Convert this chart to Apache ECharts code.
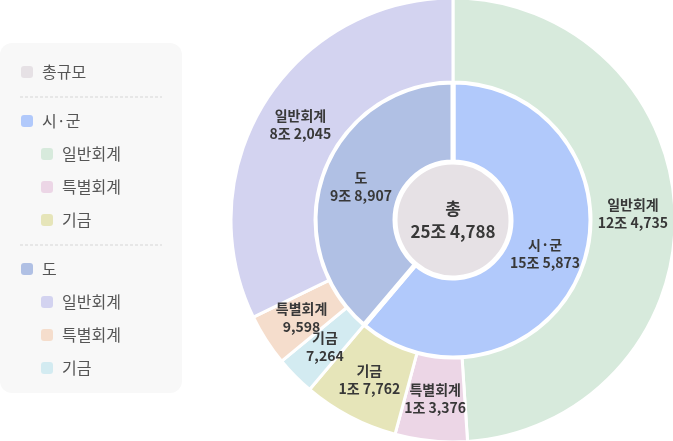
<!DOCTYPE html>
<html>
<head>
<meta charset="utf-8">
<script src="https://cdn.jsdelivr.net/npm/echarts@6/dist/echarts.min.js"></script>
<style>
  html, body { margin: 0; padding: 0; background: #fff; }
  #chart_box { width: 673px; height: 441px; }
</style>
</head>
<body>
<div id="chart_box"></div>
<script>
// 단위: 억원
const totalName = '총';
const totalLegend = '총규모';
const totalValue = 254788;
const groupNames = ['시·군', '도'];
const groupValues = [155873, 98907];
const itemNames = ['일반회계', '특별회계', '기금'];
const siGunValues = [124735, 13376, 17762];
const doValues = [82045, 9598, 7264];

// colours
const totalColor = '#e6e1e5';
const groupColors = ['#b1c9fb', '#b0c0e4'];
const itemColors = [
    ['#d7eadc', '#ecd6e6', '#e6e5b9'],
    ['#d3d3f0', '#f5ddcc', '#d3ebf1']
];
const fontName = '"Noto Sans CJK KR", "Noto Sans", sans-serif';

// 12조 4,735 형식
function fmt(v) {
    const jo = Math.floor(v / 10000);
    const rest = (v % 10000).toLocaleString('en-US');
    return jo > 0 ? jo + '조 ' + rest : rest;
}

window.onload = function () {
    var myChart = echarts.init(document.getElementById('chart_box'));

    const childValues = [siGunValues, doValues];
    const groups = groupNames.map(function (g, i) {
        let kids = itemNames.map(function (n, j) {
            return { name: n, value: childValues[i][j], itemStyle: { color: itemColors[i][j] } };
        });
        // 도는 시계방향으로 기금 -> 특별회계 -> 일반회계 (대칭 배치)
        if (i === 1) kids = kids.reverse();
        return {
            name: g,
            value: groupValues[i],
            itemStyle: { color: groupColors[i] },
            children: kids
        };
    });

    // 왼쪽 범례 (계층형)
    const legend = [];
    legend.push({
        type: 'rect', shape: { x: 0, y: 43, width: 182, height: 350, r: 12 },
        style: { fill: '#f8f8f8' }, silent: true
    });
    function row(name, color, x, y) {
        legend.push({
            type: 'rect', shape: { x: x, y: y - 6, width: 12, height: 12, r: 3 },
            style: { fill: color }, silent: true
        });
        legend.push({
            type: 'text', x: x + 21, y: y,
            style: { text: name, fill: '#555', font: '16px ' + fontName, verticalAlign: 'middle' },
            silent: true
        });
    }
    function sep(y) {
        legend.push({
            type: 'line', shape: { x1: 20, y1: y, x2: 162, y2: y },
            style: { stroke: '#d6d6d6', lineWidth: 1, lineDash: [3, 2] }, silent: true
        });
    }
    let y = 72;
    row(totalLegend, totalColor, 21, y);
    groupNames.forEach(function (g, i) {
        y += 25; sep(y);
        y += 24; row(g, groupColors[i], 21, y);
        itemNames.forEach(function (n, j) {
            y += 33; row(n, itemColors[i][j], 41, y);
        });
    });

    option = {
        animation: false,
        graphic: legend,
        series: [
            {
                type: 'sunburst',
                center: [453, 220],
                sort: null,
                nodeClick: false,
                startAngle: 90,
                emphasis: { focus: 'none' },
                itemStyle: { borderColor: '#fff', borderWidth: 3 },
                label: {
                    rotate: 0,
                    color: '#383838',
                    fontFamily: fontName,
                    fontSize: 14,
                    fontWeight: 'bold',
                    lineHeight: 18,
                    formatter: function (p) { return p.name + '\n' + fmt(p.value); }
                },
                levels: [
                    {},
                    { r0: 0, r: 58, label: { fontSize: 17, lineHeight: 23 } },
                    { r0: 58, r: 138, itemStyle: { borderWidth: 5 } },
                    { r0: 138, r: 222 }
                ],
                data: [
                    { name: totalName, value: totalValue, itemStyle: { color: totalColor }, children: groups }
                ]
            }
        ]
    };
    myChart.setOption(option);
};
</script>
</body>
</html>
